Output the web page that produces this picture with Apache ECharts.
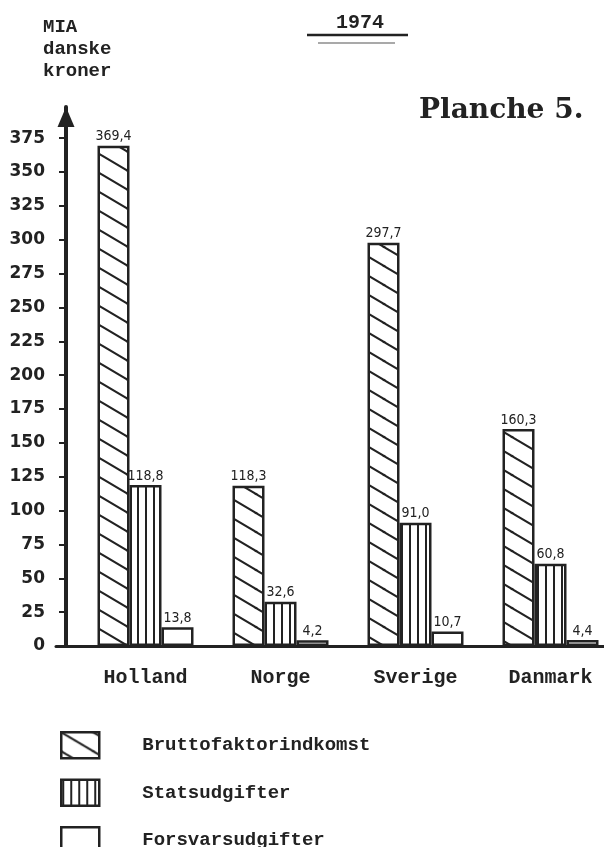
<!DOCTYPE html>
<html>
<head>
<meta charset="utf-8">
<script src="https://cdn.jsdelivr.net/npm/echarts@6/dist/echarts.min.js"></script>
<style>
html,body{margin:0;padding:0;background:#ffffff;}
#chart{width:604px;height:847px;}
</style>
</head>
<body>
<div id="chart"></div>
<script>
// ---- data ----
const categories = ['Holland', 'Norge', 'Sverige', 'Danmark'];
const seriesNames = ['Bruttofaktorindkomst', 'Statsudgifter', 'Forsvarsudgifter'];
const bruttofaktorindkomst = [369.4, 118.3, 297.7, 160.3];
const statsudgifter = [118.8, 32.6, 91.0, 60.8];
const forsvarsudgifter = [13.8, 4.2, 10.7, 4.4];
const yTicks = [0, 25, 50, 75, 100, 125, 150, 175, 200, 225, 250, 275, 300, 325, 350, 375];
const yUnit = 'MIA\ndanske\nkroner';
const yearText = '1974';
const plateText = 'Planche 5.';

const INK = '#222222';
const MONO = '"Liberation Mono", "DejaVu Sans Mono", monospace';

function diagonalPattern() {
  const W = 32, H = 19;
  const c = document.createElement('canvas');
  c.width = W; c.height = H;
  const g = c.getContext('2d');
  g.strokeStyle = INK;
  g.lineWidth = 2;
  [[0, 0], [W, 0], [-W, 0], [0, H], [0, -H]].forEach(function (o) {
    g.beginPath();
    g.moveTo(-W + o[0], -H + o[1]);
    g.lineTo(2 * W + o[0], 2 * H + o[1]);
    g.stroke();
  });
  return { image: c, repeat: 'repeat' };
}
function verticalPattern() {
  const W = 8, H = 8;
  const c = document.createElement('canvas');
  c.width = W; c.height = H;
  const g = c.getContext('2d');
  g.fillStyle = INK;
  g.fillRect(1, 0, 2, H);
  return { image: c, repeat: 'repeat' };
}

const fmt = function (p) { return p.value.toFixed(1).replace('.', ','); };
const barLabel = {
  show: true, position: 'top', distance: 2, formatter: fmt,
  fontFamily: '"DejaVu Sans Condensed", "DejaVu Sans", sans-serif',
  fontSize: 14, color: INK
};
function barSeries(name, data, fill) {
  return {
    name: name, type: 'bar', data: data,
    barWidth: 32, barGap: '0%',
    itemStyle: { color: fill, borderColor: INK, borderWidth: 2.5 },
    label: barLabel,
    emphasis: { disabled: true },
    xAxisIndex: 0, yAxisIndex: 0
  };
}

const chart = echarts.init(document.getElementById('chart'), null, { renderer: 'canvas' });
chart.setOption({
  backgroundColor: '#ffffff',
  animation: false,
  grid: [
    { left: 78, top: 107, width: 540, bottom: 201, containLabel: false, outerBoundsMode: 'none' },
    { left: 56, top: 107, width: 24, bottom: 201, containLabel: false, outerBoundsMode: 'none' }
  ],
  xAxis: [
    {
      type: 'category', data: categories, gridIndex: 0,
      axisLine: { show: true, lineStyle: { color: INK, width: 3 } },
      axisTick: { show: false },
      axisLabel: { fontFamily: MONO, fontWeight: 'bold', fontSize: 20, color: INK, margin: 22 },
      splitLine: { show: false }
    },
    {
      type: 'value', gridIndex: 1, min: 0, max: 1,
      axisLine: { show: true, onZero: false, lineStyle: { color: INK, width: 3 } },
      axisTick: { show: false }, axisLabel: { show: false }, splitLine: { show: false }
    }
  ],
  yAxis: [
    {
      type: 'value', gridIndex: 0, min: 0, max: 398, interval: 25, offset: 12,
      axisLine: {
        show: true, lineStyle: { color: INK, width: 4 },
        symbol: ['none', 'triangle'], symbolSize: [17, 20], symbolOffset: [0, -10]
      },
      axisTick: { show: true, length: 7, lineStyle: { color: INK, width: 2 }, customValues: yTicks },
      axisLabel: {
        customValues: yTicks, margin: 21, color: INK,
        fontFamily: '"DejaVu Sans", sans-serif', fontWeight: 'bold', fontSize: 17
      },
      splitLine: { show: false }
    },
    { type: 'value', gridIndex: 1, show: false }
  ],
  legend: {
    orient: 'vertical', left: 60, top: 731, height: 300, padding: 0,
    itemWidth: 38, itemHeight: 26, itemGap: 19, icon: 'rect',
    selectedMode: false,
    itemStyle: { borderColor: INK, borderWidth: 2.5 },
    textStyle: { fontFamily: MONO, fontWeight: 'bold', fontSize: 19, color: INK, padding: [0, 0, 0, 38] },
    data: seriesNames
  },
  series: [
    barSeries(seriesNames[0], bruttofaktorindkomst, diagonalPattern()),
    barSeries(seriesNames[1], statsudgifter, verticalPattern()),
    barSeries(seriesNames[2], forsvarsudgifter, '#ffffff')
  ],
  graphic: [
    {
      type: 'text', left: 43, top: 16,
      style: { text: yUnit, font: 'bold 19px ' + MONO, fill: INK, lineHeight: 22 }
    },
    {
      type: 'text', x: 360, y: 23,
      style: { text: yearText, font: 'bold 20px ' + MONO, fill: INK, align: 'center', verticalAlign: 'middle' }
    },
    { type: 'line', shape: { x1: 307, y1: 35, x2: 408, y2: 35 }, style: { stroke: INK, lineWidth: 2.5 } },
    { type: 'line', shape: { x1: 318, y1: 43, x2: 395, y2: 43 }, style: { stroke: '#555', lineWidth: 1.2 } },
    {
      type: 'text', left: 419, top: 97,
      style: { text: plateText, font: 'bold 28px "DejaVu Serif", serif', fill: INK }
    }
  ]
});
</script>
</body>
</html>
